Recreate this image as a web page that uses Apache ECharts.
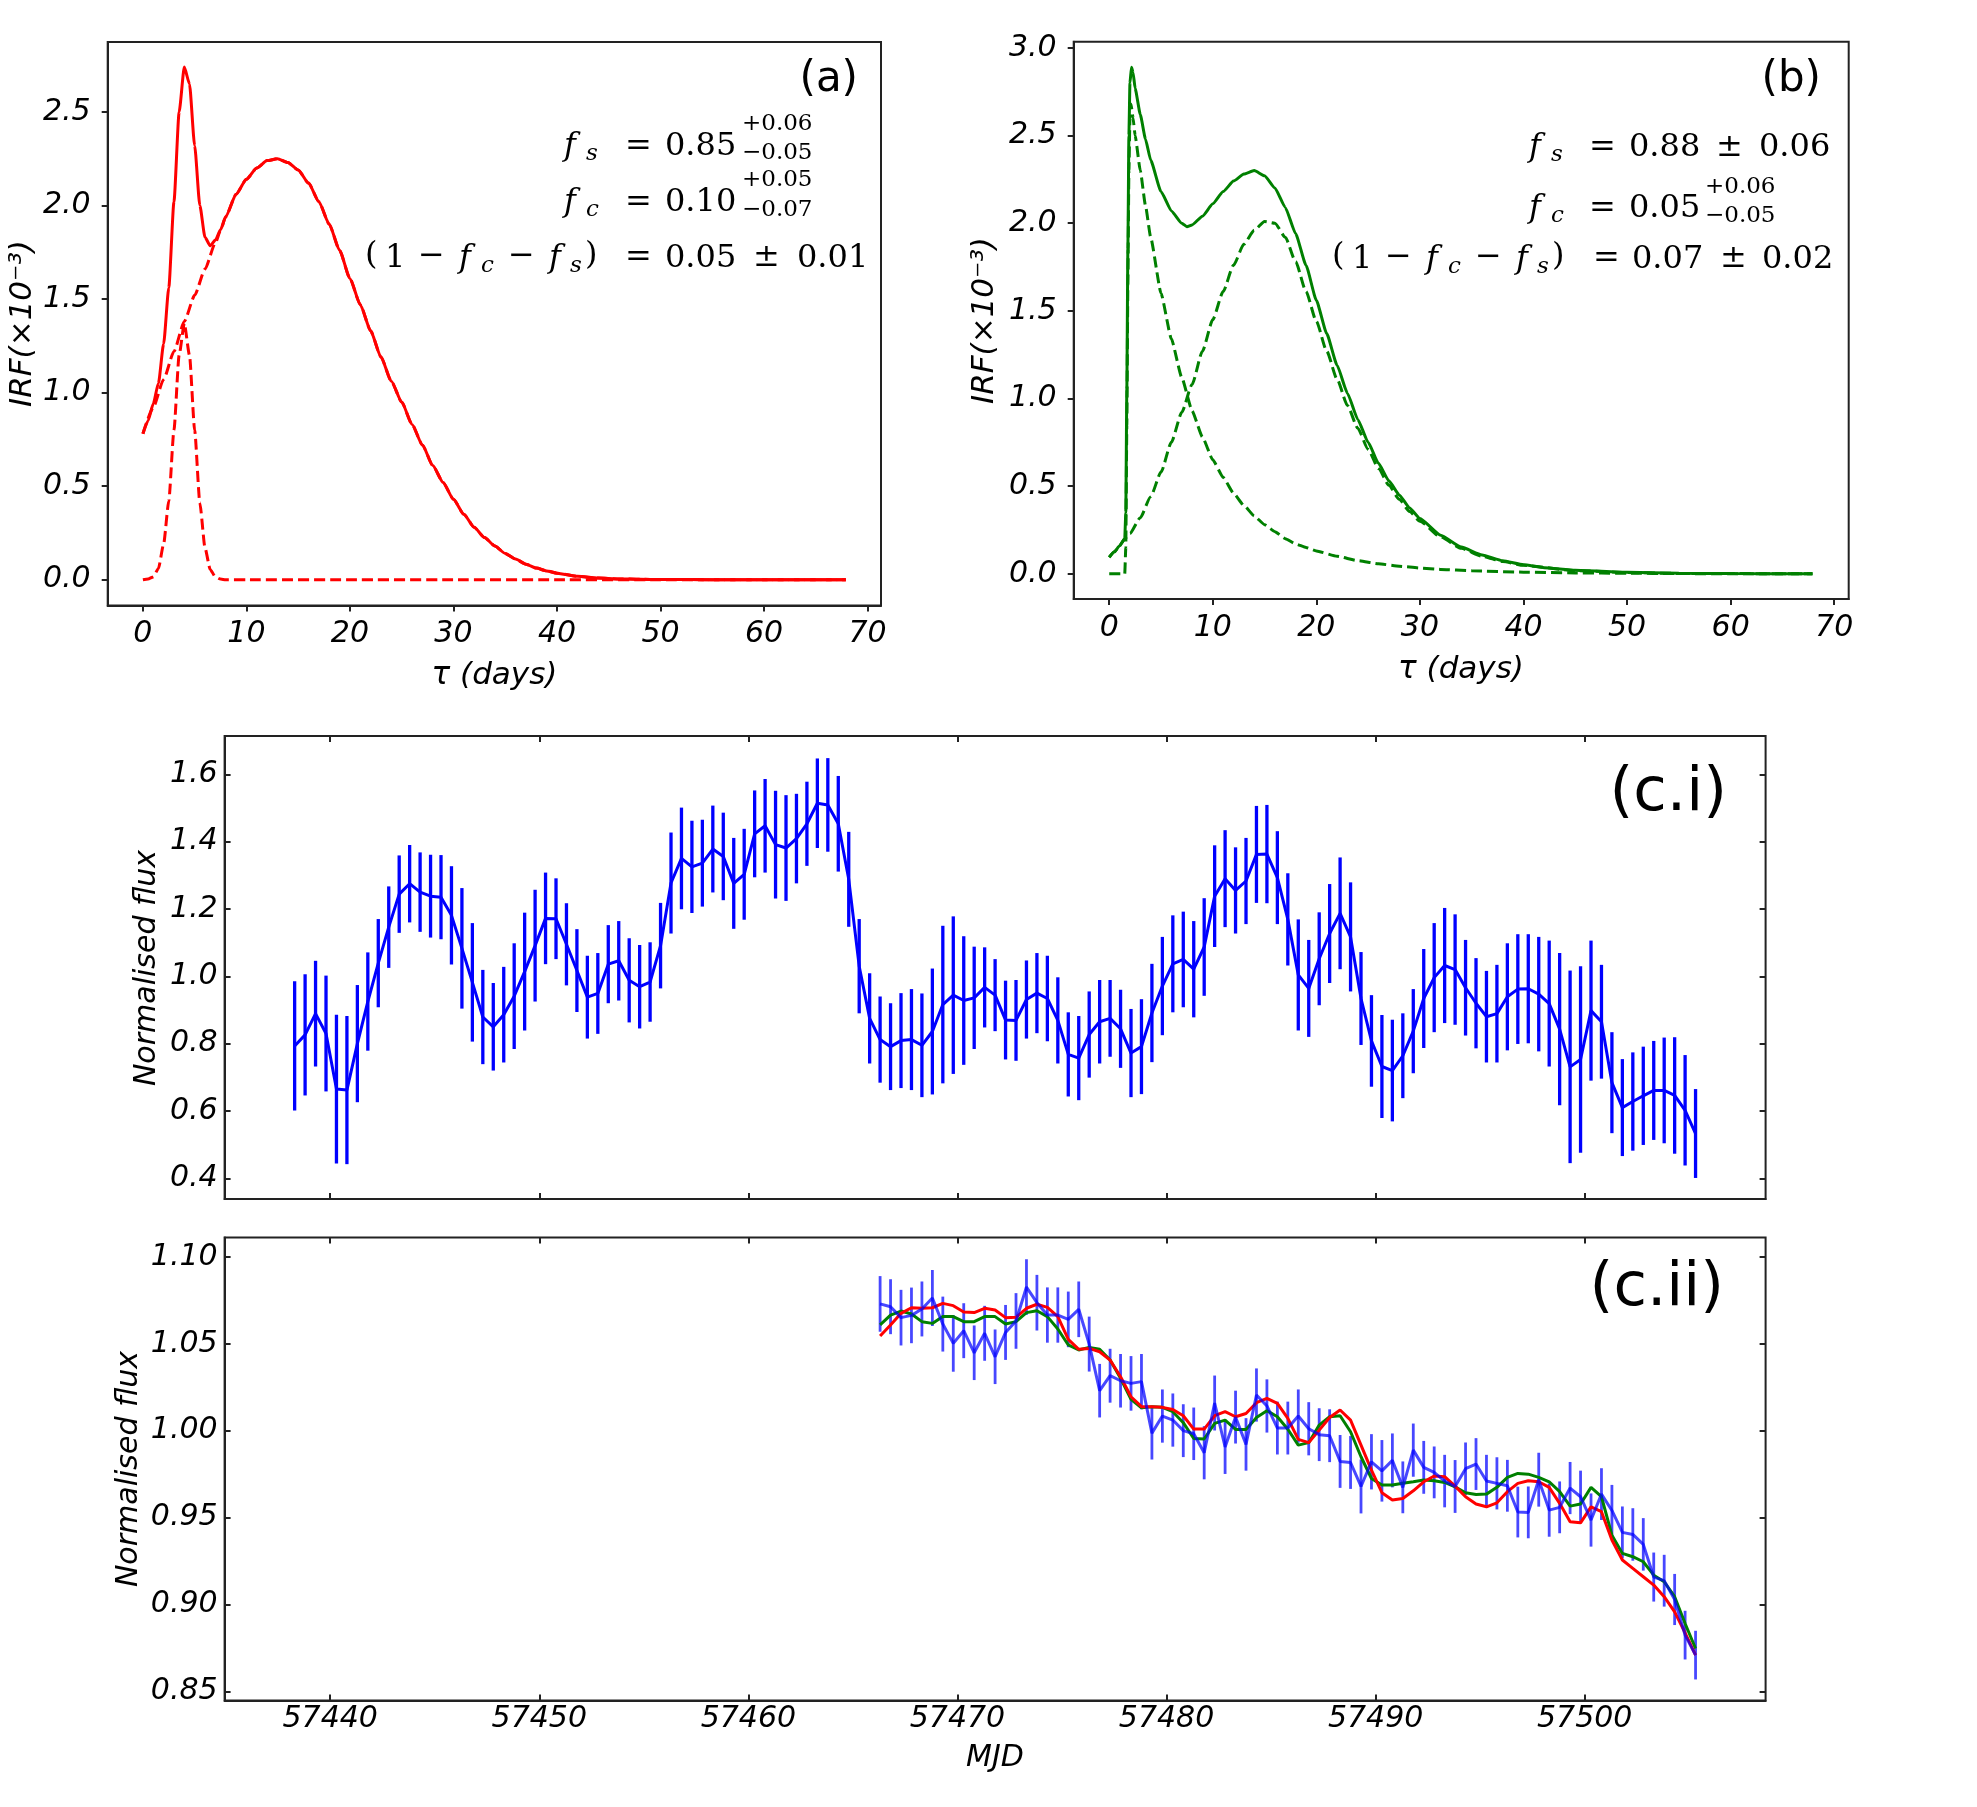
<!DOCTYPE html>
<html><head><meta charset="utf-8">
<script src="https://cdn.jsdelivr.net/npm/echarts@6/dist/echarts.min.js"></script>
<style>html,body{margin:0;padding:0;background:#fff;}#chart{width:1977px;height:1807px;}</style>
</head><body><div id="chart"></div>
<script>
// ---------- Panel (a): IRF components (red) ----------
const aTotalTau = [0,0.5,1,1.5,2,2.5,3,3.5,4,4.5,5,5.5,6,6.5,7,7.5,8,9,10,11,12,13,14,15,16,17,18,19,20,21,22,23,24,25,26,27,28,29,30,31,32,33,34,35,36,37,38,39,40,42,44,46,48,50,55,60,67.9];
const aTotalVal = [0.78,0.85,0.94,1.05,1.26,1.56,2.02,2.50,2.74,2.65,2.32,2.00,1.83,1.785,1.815,1.87,1.94,2.06,2.14,2.20,2.24,2.25,2.23,2.19,2.12,2.02,1.90,1.76,1.61,1.47,1.33,1.19,1.06,0.95,0.83,0.72,0.61,0.52,0.43,0.35,0.28,0.225,0.18,0.14,0.11,0.083,0.062,0.047,0.035,0.018,0.009,0.004,0.002,0.001,0,0,0];
const aBroadTau = [0,1,2,3,4,5,6,7,7.5,8,9,10,11,12,13,14,15,16,17,18,19,20,21,22,23,24,25,26,27,28,29,30,31,32,33,34,35,36,37,38,39,40,42,44,46,48,50,55,60,67.9];
const aBroadVal = [0.78,0.92,1.07,1.22,1.38,1.52,1.66,1.80,1.867,1.94,2.06,2.14,2.20,2.24,2.25,2.23,2.19,2.12,2.02,1.90,1.76,1.61,1.47,1.33,1.19,1.06,0.95,0.83,0.72,0.61,0.52,0.43,0.35,0.28,0.225,0.18,0.14,0.11,0.083,0.062,0.047,0.035,0.018,0.009,0.004,0.002,0.001,0,0,0];
const aNarrowTau = [0,0.5,1,1.5,2,2.5,3,3.5,4,4.5,5,5.5,6,6.5,7,7.5,8,10,20,30,40,50,60,67.9];
const aNarrowVal = [0,0.004,0.015,0.06,0.19,0.42,0.80,1.20,1.37,1.20,0.80,0.41,0.17,0.055,0.015,0.003,0,0,0,0,0,0,0,0];

// ---------- Panel (b): IRF components (green) ----------
const bTotalTau = [0,0.5,1,1.5,1.6,1.7,1.8,1.9,2.0,2.15,2.3,2.5,3,3.5,4,5,6,7,7.5,8,9,10,11,12,13,14,15,16,17,18,19,20,21,22,23,24,25,26,27,28,29,30,32,34,36,38,40,42,45,50,55,60,67.9];
const bTotalVal = [0.094,0.125,0.16,0.20,0.35,1.05,1.85,2.50,2.80,2.89,2.86,2.77,2.62,2.48,2.36,2.18,2.07,2.00,1.98,1.99,2.04,2.11,2.18,2.24,2.28,2.30,2.27,2.20,2.09,1.94,1.76,1.56,1.37,1.19,1.03,0.88,0.75,0.63,0.53,0.45,0.375,0.315,0.22,0.152,0.107,0.074,0.051,0.035,0.02,0.008,0.003,0.001,0];
const bNarrowTau = [0,1.5,1.6,1.7,1.8,1.9,2.0,2.1,2.3,2.5,3,3.5,4,5,6,7,8,9,10,11,12,13,14,15,16,17,18,19,20,22,24,26,28,30,32,35,40,45,50,55,60,67.9];
const bNarrowVal = [0,0,0.15,0.85,1.65,2.30,2.60,2.68,2.60,2.50,2.30,2.10,1.92,1.60,1.34,1.12,0.93,0.78,0.65,0.55,0.46,0.39,0.33,0.28,0.24,0.20,0.17,0.15,0.13,0.10,0.075,0.057,0.043,0.033,0.025,0.017,0.009,0.005,0.003,0.001,0,0];
const bBroadTau = [0,0.5,1,1.5,2,3,4,5,6,7,8,9,10,11,12,13,14,15,16,17,18,19,20,21,22,23,24,25,26,27,28,29,30,32,34,36,38,40,45,50,55,60,67.9];
const bBroadVal = [0.094,0.125,0.16,0.20,0.23,0.32,0.44,0.58,0.75,0.92,1.08,1.27,1.45,1.61,1.76,1.88,1.96,2.01,2.00,1.92,1.78,1.61,1.44,1.27,1.11,0.96,0.83,0.71,0.60,0.505,0.425,0.355,0.30,0.21,0.145,0.10,0.07,0.048,0.018,0.007,0.002,0.001,0];

// ---------- Panel (c.i): light curve with error bars ----------
const mjd1 = [57438.3,57438.8,57439.3,57439.8,57440.3,57440.8,57441.3,57441.8,57442.3,57442.8,57443.3,57443.8,57444.3,57444.8,57445.3,57445.8,57446.3,57446.8,57447.3,57447.8,57448.3,57448.8,57449.3,57449.8,57450.3,57450.8,57451.3,57451.8,57452.3,57452.8,57453.3,57453.8,57454.3,57454.8,57455.3,57455.8,57456.3,57456.8,57457.3,57457.8,57458.3,57458.8,57459.3,57459.8,57460.3,57460.8,57461.3,57461.8,57462.3,57462.8,57463.3,57463.8,57464.3,57464.8,57465.3,57465.8,57466.3,57466.8,57467.3,57467.8,57468.3,57468.8,57469.3,57469.8,57470.3,57470.8,57471.3,57471.8,57472.3,57472.8,57473.3,57473.8,57474.3,57474.8,57475.3,57475.8,57476.3,57476.8,57477.3,57477.8,57478.3,57478.8,57479.3,57479.8,57480.3,57480.8,57481.3,57481.8,57482.3,57482.8,57483.3,57483.8,57484.3,57484.8,57485.3,57485.8,57486.3,57486.8,57487.3,57487.8,57488.3,57488.8,57489.3,57489.8,57490.3,57490.8,57491.3,57491.8,57492.3,57492.8,57493.3,57493.8,57494.3,57494.8,57495.3,57495.8,57496.3,57496.8,57497.3,57497.8,57498.3,57498.8,57499.3,57499.8,57500.3,57500.8,57501.3,57501.8,57502.3,57502.8,57503.3,57503.8,57504.3,57504.8,57505.3];
const flux1 = [0.793,0.826,0.889,0.830,0.665,0.662,0.800,0.925,1.039,1.146,1.244,1.275,1.250,1.238,1.235,1.181,1.083,0.982,0.879,0.850,0.886,0.941,1.014,1.091,1.172,1.171,1.095,1.017,0.938,0.949,1.036,1.046,0.988,0.969,0.983,1.091,1.277,1.350,1.325,1.336,1.378,1.356,1.276,1.303,1.423,1.447,1.391,1.381,1.409,1.453,1.514,1.509,1.453,1.288,1.030,0.875,0.812,0.791,0.809,0.812,0.795,0.836,0.916,0.944,0.928,0.936,0.967,0.944,0.870,0.869,0.931,0.950,0.934,0.869,0.768,0.757,0.827,0.865,0.875,0.844,0.772,0.791,0.891,0.971,1.037,1.050,1.021,1.087,1.238,1.290,1.255,1.283,1.362,1.363,1.293,1.169,1.004,0.964,1.052,1.127,1.187,1.117,0.934,0.808,0.732,0.720,0.764,0.837,0.934,0.996,1.032,1.020,0.966,0.920,0.880,0.889,0.939,0.962,0.963,0.947,0.919,0.843,0.731,0.753,0.898,0.865,0.684,0.610,0.628,0.645,0.661,0.661,0.646,0.602,0.533];
const err1 = [0.192,0.180,0.157,0.172,0.221,0.220,0.174,0.146,0.131,0.121,0.115,0.115,0.118,0.123,0.125,0.146,0.179,0.176,0.140,0.130,0.142,0.157,0.175,0.166,0.136,0.120,0.122,0.123,0.123,0.120,0.116,0.118,0.125,0.124,0.118,0.127,0.150,0.151,0.137,0.129,0.129,0.130,0.135,0.135,0.129,0.139,0.160,0.157,0.133,0.125,0.133,0.139,0.142,0.141,0.140,0.134,0.128,0.129,0.141,0.150,0.154,0.187,0.234,0.234,0.191,0.152,0.119,0.107,0.117,0.120,0.116,0.119,0.127,0.128,0.125,0.125,0.128,0.124,0.114,0.116,0.131,0.141,0.146,0.146,0.144,0.142,0.143,0.145,0.151,0.144,0.128,0.128,0.144,0.146,0.138,0.137,0.165,0.144,0.138,0.147,0.166,0.162,0.138,0.136,0.153,0.151,0.126,0.125,0.147,0.162,0.171,0.164,0.142,0.134,0.136,0.145,0.159,0.163,0.162,0.170,0.187,0.226,0.286,0.277,0.208,0.169,0.150,0.144,0.146,0.146,0.147,0.157,0.173,0.164,0.132];

// ---------- Panel (c.ii): data (blue) + two model curves ----------
const mjd2 = [57466.3,57466.8,57467.3,57467.8,57468.3,57468.8,57469.3,57469.8,57470.3,57470.8,57471.3,57471.8,57472.3,57472.8,57473.3,57473.8,57474.3,57474.8,57475.3,57475.8,57476.3,57476.8,57477.3,57477.8,57478.3,57478.8,57479.3,57479.8,57480.3,57480.8,57481.3,57481.8,57482.3,57482.8,57483.3,57483.8,57484.3,57484.8,57485.3,57485.8,57486.3,57486.8,57487.3,57487.8,57488.3,57488.8,57489.3,57489.8,57490.3,57490.8,57491.3,57491.8,57492.3,57492.8,57493.3,57493.8,57494.3,57494.8,57495.3,57495.8,57496.3,57496.8,57497.3,57497.8,57498.3,57498.8,57499.3,57499.8,57500.3,57500.8,57501.3,57501.8,57502.3,57502.8,57503.3,57503.8,57504.3,57504.8,57505.3];
const flux2 = [1.0729,1.0713,1.0650,1.0663,1.0700,1.0763,1.0613,1.0502,1.0575,1.0448,1.0560,1.0425,1.0565,1.0631,1.0826,1.0736,1.0665,1.0665,1.0640,1.0698,1.0498,1.0230,1.0316,1.0287,1.0272,1.0282,0.9986,1.0084,1.0061,1.0000,0.9982,0.9873,1.0159,0.9906,1.0078,0.9921,1.0205,1.0142,1.0015,1.0015,1.0084,1.0011,0.9977,0.9971,0.9823,0.9817,0.9679,0.9821,0.9769,0.9829,0.9674,0.9888,0.9789,0.9760,0.9710,0.9679,0.9781,0.9808,0.9710,0.9697,0.9683,0.9532,0.9530,0.9718,0.9543,0.9559,0.9670,0.9620,0.9486,0.9635,0.9541,0.9415,0.9403,0.9346,0.9158,0.9137,0.9029,0.8824,0.8709];
const err2 = [0.0160,0.0158,0.0160,0.0160,0.0158,0.0161,0.0158,0.0163,0.0158,0.0157,0.0158,0.0157,0.0158,0.0160,0.0160,0.0160,0.0159,0.0159,0.0160,0.0160,0.0158,0.0154,0.0155,0.0154,0.0157,0.0159,0.0152,0.0153,0.0153,0.0152,0.0151,0.0153,0.0158,0.0155,0.0152,0.0151,0.0153,0.0153,0.0152,0.0152,0.0153,0.0153,0.0152,0.0152,0.0152,0.0152,0.0155,0.0159,0.0177,0.0155,0.0149,0.0153,0.0152,0.0149,0.0151,0.0152,0.0151,0.0149,0.0151,0.0150,0.0149,0.0146,0.0149,0.0155,0.0153,0.0149,0.0150,0.0150,0.0153,0.0149,0.0147,0.0149,0.0151,0.0151,0.0141,0.0149,0.0147,0.0140,0.0140];
const modelRed = [1.0544,1.0608,1.0675,1.0707,1.0704,1.0707,1.0732,1.0719,1.0682,1.0679,1.0704,1.0694,1.0650,1.0652,1.0704,1.0727,1.0709,1.0656,1.0525,1.0468,1.0473,1.0454,1.0406,1.0310,1.0195,1.0138,1.0138,1.0134,1.0122,1.0086,1.0009,1.0009,1.0086,1.0109,1.0080,1.0099,1.0161,1.0186,1.0157,1.0071,0.9950,0.9931,1.0003,1.0076,1.0119,1.0061,0.9917,0.9773,0.9643,0.9601,0.9610,0.9654,0.9706,0.9739,0.9735,0.9681,0.9620,0.9578,0.9562,0.9585,0.9649,0.9697,0.9712,0.9706,0.9674,0.9582,0.9476,0.9470,0.9562,0.9534,0.9371,0.9256,0.9208,0.9160,0.9112,0.9045,0.8958,0.8837,0.8709];
const modelGreen = [1.0608,1.0665,1.0688,1.0671,1.0627,1.0617,1.0656,1.0656,1.0627,1.0627,1.0656,1.0656,1.0613,1.0627,1.0679,1.0690,1.0656,1.0585,1.0493,1.0464,1.0479,1.0468,1.0406,1.0301,1.0180,1.0132,1.0138,1.0134,1.0109,1.0046,0.9955,0.9952,1.0042,1.0061,1.0007,1.0007,1.0076,1.0115,1.0080,1.0008,0.9917,0.9931,1.0032,1.0080,1.0086,0.9994,0.9850,0.9725,0.9687,0.9687,0.9697,0.9706,0.9716,0.9712,0.9702,0.9677,0.9643,0.9633,0.9635,0.9674,0.9731,0.9754,0.9750,0.9731,0.9706,0.9649,0.9566,0.9578,0.9674,0.9620,0.9399,0.9294,0.9275,0.9246,0.9169,0.9131,0.9045,0.8891,0.8747];

// ---------- Tick values ----------
const tauTicks = [0,10,20,30,40,50,60,70];
const irfTicksA = [0,0.5,1,1.5,2,2.5];
const irfTicksB = [0,0.5,1,1.5,2,2.5,3];
const mjdTicks = [57440,57450,57460,57470,57480,57490,57500];
const fluxTicks1 = [0.4,0.6,0.8,1.0,1.2,1.4,1.6];
const fluxTicks2 = [0.85,0.90,0.95,1.00,1.05,1.10];

// ---------- helpers ----------
const FR = '#222';
const SANS = '"DejaVu Sans", "Noto Sans", sans-serif';
const SERIF = '"DejaVu Serif", "Liberation Serif", serif';
const zip = (xs, ys) => xs.map((x, i) => [x, ys[i]]);
const zip3 = (xs, ys, es) => xs.map((x, i) => [x, ys[i], es[i]]);

function axis(o) {
  return {
    type: 'value', gridIndex: o.g, position: o.pos, min: o.min, max: o.max,
    axisLine: {show: o.line !== false, onZero: false, lineStyle: {color: FR, width: 2}},
    axisTick: {show: true, customValues: o.ticks, inside: !!o.inside, length: 6, lineStyle: {color: FR, width: 2}},
    axisLabel: o.fmt ? {show: true, customValues: o.ticks, margin: o.margin, formatter: o.fmt,
      fontSize: 30, fontStyle: 'italic', fontFamily: SANS, color: '#000'} : {show: false},
    splitLine: {show: false}
  };
}
function line(xi, yi, data, color, width, dashed, smooth) {
  return {type: 'line', xAxisIndex: xi, yAxisIndex: yi, data: data, symbol: 'none', showSymbol: false,
    smooth: smooth || false, smoothMonotone: 'x', silent: true, animation: false,
    lineStyle: {color: color, width: width, type: dashed ? [11, 5] : 'solid'}, itemStyle: {color: color}};
}
function errBars(xi, yi, data, color, width) {
  return {type: 'custom', xAxisIndex: xi, yAxisIndex: yi, data: data, silent: true, animation: false,
    encode: {x: 0, y: 1},
    renderItem: function (params, api) {
      const x = api.value(0), y = api.value(1), e = api.value(2);
      const p1 = api.coord([x, y - e]), p2 = api.coord([x, y + e]);
      return {type: 'line', shape: {x1: p1[0], y1: p1[1], x2: p2[0], y2: p2[1]},
        style: {stroke: color, lineWidth: width}};
    }};
}
function mt(t, x, y, k) {
  const big = k[0] === 'M';
  return {type: 'text', x: x, y: y, z: 100,
    style: {text: t, fontSize: big ? 32 : 23, fontFamily: SERIF, fontStyle: k.length > 1 ? 'italic' : 'normal',
      fill: '#000', align: 'left', verticalAlign: 'middle'}};
}
function lab(t, x, y, size, italic, align, rot) {
  return {type: 'text', x: x, y: y, rotation: rot || 0, z: 100,
    style: {text: t, fontSize: size, fontFamily: SANS, fontStyle: italic ? 'italic' : 'normal',
      fill: '#000', align: align || 'center', verticalAlign: 'middle'}};
}

const annoA = [
  ['f',564,146.5,'MI'],['s',586,154,'SI'],['=',625,146.5,'M'],['0.85',665,146.5,'M'],['+0.06',742,124.5,'S'],['\u22120.05',742,153,'S'],
  ['f',564,202.8,'MI'],['c',586,210,'SI'],['=',625,202.8,'M'],['0.10',665,202.8,'M'],['+0.05',742,180,'S'],['\u22120.07',742,210,'S'],
  ['(',365,256,'M'],['1',385,258.7,'M'],['\u2212',418,257,'M'],['f',459,258.7,'MI'],['c',481,266,'SI'],['\u2212',508,257,'M'],
  ['f',549,258.7,'MI'],['s',570,266,'SI'],[')',585,256,'M'],['=',625,258,'M'],['0.05',665,258.7,'M'],['\u00b1',753,258,'M'],['0.01',797,258.7,'M']
];
const annoB = [
  ['f',1529,147.5,'MI'],['s',1551,155,'SI'],['=',1589,147.5,'M'],['0.88',1629,147.5,'M'],['\u00b1',1716,147.5,'M'],['0.06',1759,147.5,'M'],
  ['f',1529,208.3,'MI'],['c',1551,216,'SI'],['=',1589,208.3,'M'],['0.05',1629,208.3,'M'],['+0.06',1705,187.5,'S'],['\u22120.05',1705,216,'S'],
  ['(',1332,257,'M'],['1',1352,259.5,'M'],['\u2212',1385,258,'M'],['f',1426,259.5,'MI'],['c',1448,267,'SI'],['\u2212',1475,258,'M'],
  ['f',1516,259.5,'MI'],['s',1537,267,'SI'],[')',1552,257,'M'],['=',1593,259,'M'],['0.07',1632,259.5,'M'],['\u00b1',1720,259,'M'],['0.02',1762,259.5,'M']
];

const graphics = [].concat(
  annoA.map(s => mt(s[0], s[1], s[2], s[3])),
  annoB.map(s => mt(s[0], s[1], s[2], s[3])),
  [
    lab('(a)', 858, 80.5, 42, false, 'right'),
    lab('(b)', 1821, 80.5, 42, false, 'right'),
    lab('(c.i)', 1727, 794, 61, false, 'right'),
    lab('(c.ii)', 1724, 1289, 61, false, 'right'),
    lab('IRF(\u00d710\u207b\u00b3)', 23, 323.5, 31, true, 'center', Math.PI / 2),
    lab('IRF(\u00d710\u207b\u00b3)', 985, 320.5, 31, true, 'center', Math.PI / 2),
    lab('\u03c4 (days)', 494.5, 676, 31, true, 'center'),
    lab('\u03c4 (days)', 1461, 669.5, 31, true, 'center'),
    lab('Normalised flux', 147.5, 968, 30, true, 'center', Math.PI / 2),
    lab('Normalised flux', 129, 1469, 30, true, 'center', Math.PI / 2),
    lab('MJD', 995, 1758, 30, true, 'center')
  ]
);

const gridBase = {show: true, borderColor: FR, borderWidth: 2, backgroundColor: 'transparent', containLabel: false, outerBoundsMode: 'none'};
const f1 = v => v.toFixed(1), f2 = v => v.toFixed(2), f0 = v => String(Math.round(v));

const option = {
  animation: false,
  backgroundColor: '#fff',
  grid: [
    Object.assign({left: 107.7, top: 42, width: 773.3, height: 563.5}, gridBase),
    Object.assign({left: 1073.7, top: 41.8, width: 775, height: 557.3}, gridBase),
    Object.assign({left: 224.6, top: 736, width: 1541, height: 463}, gridBase),
    Object.assign({left: 224.6, top: 1237.5, width: 1541, height: 463}, gridBase)
  ],
  xAxis: [
    axis({g: 0, pos: 'bottom', min: -3.4, max: 71.3, ticks: tauTicks, fmt: f0, margin: 14}),
    axis({g: 1, pos: 'bottom', min: -3.43, max: 71.4, ticks: tauTicks, fmt: f0, margin: 14}),
    axis({g: 2, pos: 'bottom', min: 57434.95, max: 57508.65, ticks: mjdTicks, inside: true}),
    axis({g: 2, pos: 'top', min: 57434.95, max: 57508.65, ticks: mjdTicks, inside: true, line: false}),
    axis({g: 3, pos: 'bottom', min: 57434.95, max: 57508.65, ticks: mjdTicks, inside: true, fmt: f0, margin: 4}),
    axis({g: 3, pos: 'top', min: 57434.95, max: 57508.65, ticks: mjdTicks, inside: true, line: false})
  ],
  yAxis: [
    axis({g: 0, pos: 'left', min: -0.138, max: 2.874, ticks: irfTicksA, fmt: f1, margin: 17}),
    axis({g: 1, pos: 'left', min: -0.1445, max: 3.0345, ticks: irfTicksB, fmt: f1, margin: 17}),
    axis({g: 2, pos: 'left', min: 0.3385, max: 1.7137, ticks: fluxTicks1, inside: true, fmt: f1, margin: 7}),
    axis({g: 2, pos: 'right', min: 0.3385, max: 1.7137, ticks: fluxTicks1, inside: true, line: false}),
    axis({g: 3, pos: 'left', min: 0.8448, max: 1.1111, ticks: fluxTicks2, inside: true, fmt: f2, margin: 7}),
    axis({g: 3, pos: 'right', min: 0.8448, max: 1.1111, ticks: fluxTicks2, inside: true, line: false})
  ],
  series: [
    line(0, 0, zip(aBroadTau, aBroadVal), '#ff0000', 3, true, 0.2),
    line(0, 0, zip(aNarrowTau, aNarrowVal), '#ff0000', 3, true, 0.2),
    line(0, 0, zip(aTotalTau, aTotalVal), '#ff0000', 3, false, 0.2),
    line(1, 1, zip(bBroadTau, bBroadVal), '#008000', 3, true, 0.2),
    line(1, 1, zip(bNarrowTau, bNarrowVal), '#008000', 3, true, 0.15),
    line(1, 1, zip(bTotalTau, bTotalVal), '#008000', 3, false, 0.15),
    errBars(2, 2, zip3(mjd1, flux1, err1), '#0000ff', 3.3),
    line(2, 2, zip(mjd1, flux1), '#0000ff', 3, false),
    line(4, 4, zip(mjd2, modelGreen), '#008000', 3, false),
    line(4, 4, zip(mjd2, modelRed), '#ff0000', 3, false),
    errBars(4, 4, zip3(mjd2, flux2, err2), 'rgba(0,0,255,0.72)', 2.8),
    line(4, 4, zip(mjd2, flux2), 'rgba(0,0,255,0.72)', 3, false)
  ],
  graphic: graphics
};

const chart = echarts.init(document.getElementById('chart'), null, {renderer: 'canvas', width: 1977, height: 1807});
chart.setOption(option);
</script></body></html>
